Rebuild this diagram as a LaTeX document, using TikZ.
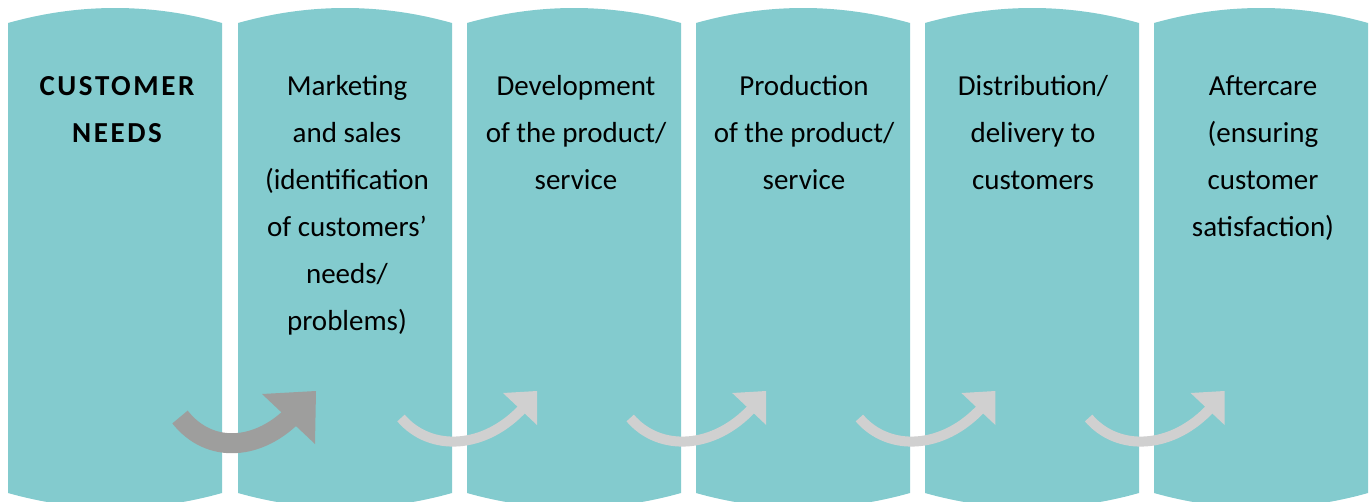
\documentclass[tikz,border=0pt]{standalone}
\usepackage{fontspec}
\setmainfont{Carlito}
\definecolor{panel}{RGB}{131,203,206}
\definecolor{darkarrow}{RGB}{158,158,157}
\definecolor{lightarrow}{RGB}{208,208,208}
\tikzset{
  paneltext/.style={anchor=base, align=center, inner sep=0pt, font=\fontsize{29}{47}\selectfont, text=black},
}
\begin{document}
\begin{tikzpicture}[x=1pt,y=-1pt]
\useasboundingbox (0,0) rectangle (1371,501);
\foreach \L in {8,238,467,696,925,1154}{
  \fill[panel] (\L,23) .. controls ({\L+71},3) and ({\L+143},3) .. ({\L+214},23)
     -- ({\L+214},493) .. controls ({\L+143},513) and ({\L+71},513) .. (\L,493) -- cycle;
}
% dark arrow
\draw[darkarrow, line width=20pt] (180,417) .. controls (210,455) and (260,450) .. (295,413);
\fill[darkarrow] (262,394) -- (316,391) -- (315,444) -- cycle;
% light arrows
\foreach \d in {0,229.2,458.4,687.6}{
  \draw[lightarrow, line width=10pt] ({401+\d},418) .. controls ({430+\d},452) and ({485+\d},450) .. ({524+\d},407);
  \fill[lightarrow] ({503+\d},393) -- ({537+\d},391) -- ({537+\d},425) -- cycle;
}
% anchor=base is the baseline of the last line; first baseline at y=95, line pitch 47
\node[paneltext] (t1) at (117,142) {\bfseries\addfontfeature{LetterSpace=9}CUSTOMER\\\bfseries\addfontfeature{LetterSpace=9}NEEDS};
\node[paneltext] (t2) at (347,330) {Marketing\\and sales\\(identification\\of customers’\\needs/\\problems)};
\node[paneltext] (t3) at (576,189) {Development\\of the product/\\service};
\node[paneltext] (t4) at (804,189) {Production\\of the product/\\service};
\node[paneltext] (t5) at (1033,189) {Distribution/\\delivery to\\customers};
\node[paneltext] (t6) at (1263,236) {Aftercare\\(ensuring\\customer\\satisfaction)};
\end{tikzpicture}
\end{document}
